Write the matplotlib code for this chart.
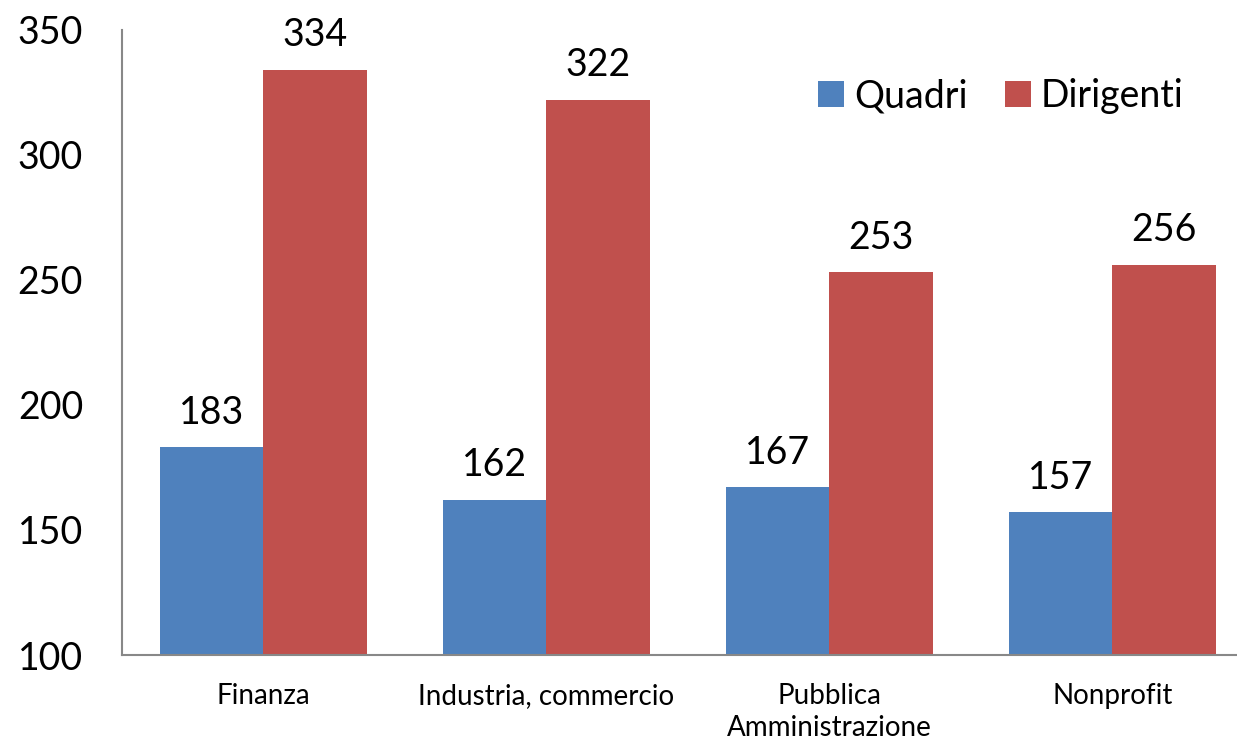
import numpy as np
import matplotlib.pyplot as plt

categories = ["Finanza", "Industria, commercio", "Pubblica\nAmministrazione", "Nonprofit"]
quadri = [183, 162, 167, 157]
dirigenti = [334, 322, 253, 256]

plt.rcParams['font.family'] = ['Lato', 'DejaVu Sans']

fig = plt.figure(figsize=(12.37, 7.49), dpi=100)
ax = fig.add_axes([0.0986, 0.1255, 0.9014, 0.8345])

x = np.arange(len(categories))
w = 0.365
ax.bar(x - w / 2, np.array(quadri) - 100, w, bottom=100, color='#4F81BD', label='Quadri')
ax.bar(x + w / 2, np.array(dirigenti) - 100, w, bottom=100, color='#C0504D', label='Dirigenti')

for xs, vals in [(x - w / 2, quadri), (x + w / 2, dirigenti)]:
    for xi, v in zip(xs, vals):
        ax.annotate(str(v), (xi, v), xytext=(0, 12), textcoords='offset points',
                    ha='center', va='bottom', fontsize=27)

ax.set_ylim(100, 350)
ax.set_xlim(-0.5, 3.44)
ax.set_yticks([100, 150, 200, 250, 300, 350])
ax.tick_params(axis='y', labelsize=27, length=0, pad=28)
ax.set_xticks(x)
ax.set_xticklabels(categories, fontsize=20, linespacing=1.3)
ax.tick_params(axis='x', length=0, pad=20)
for s in ['top', 'right']:
    ax.spines[s].set_visible(False)
ax.spines['left'].set_color('#888888')
ax.spines['bottom'].set_color('#888888')
ax.spines['left'].set_linewidth(1.5)
ax.spines['bottom'].set_linewidth(1.5)

ax.legend(loc='upper right', bbox_to_anchor=(0.982, 0.977), ncol=2, frameon=False, fontsize=27,
          handlelength=0.7, handleheight=0.7, handletextpad=0.25, columnspacing=1.0)

fig.savefig('out.png', dpi=100)
